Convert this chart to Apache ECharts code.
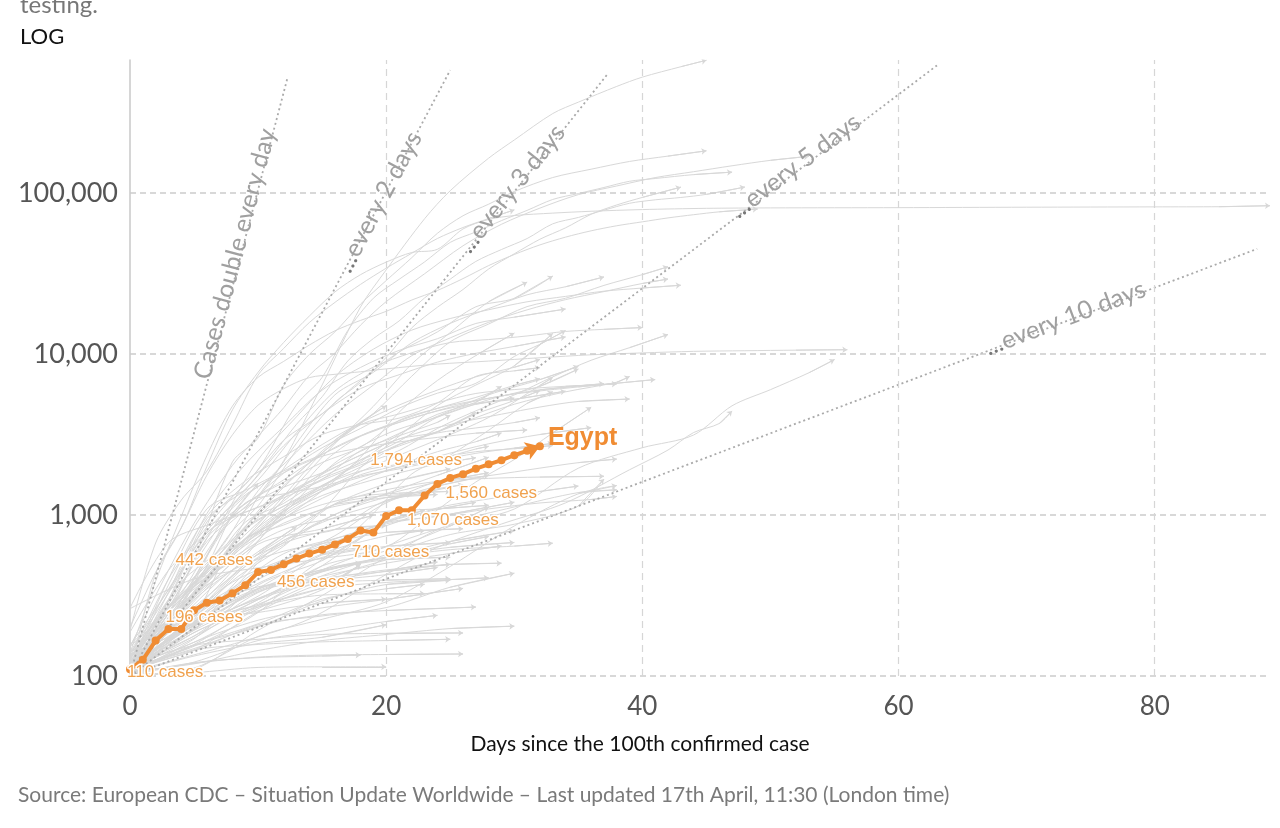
<!DOCTYPE html>
<html><head><meta charset="utf-8">
<script src="https://cdn.jsdelivr.net/npm/echarts/dist/echarts.min.js"></script>
<style>html,body{margin:0;padding:0;background:#fff}#c{width:1280px;height:828px}</style>
</head><body><div id="c"></div>
<script>
// ---------------- DATA ----------------
const xTicks = [0, 20, 40, 60, 80];
const yTicks = [100, 1000, 10000, 100000];

const egyptDays  = [0,1,2,3,4,5,6,7,8,9,10,11,12,13,14,15,16,17,18,19,20,21,22,23,24,25,26,27,28,29,30,31,32];
const egyptCases = [110,126,166,196,196,256,285,294,327,366,442,456,495,536,576,609,656,710,800,779,985,1070,1070,1322,1560,1699,1794,1939,2065,2190,2350,2505,2673];
const egyptLabelDays = [0,3,10,11,17,21,24,26];

const doublingNames = ['Cases double every day','every 2 days','every 3 days','every 5 days','every 10 days'];
const doublingEnds  = [[12.3,520000],[25,580000],[37.3,550000],[63,620000],[88,45000]];

// other countries: [day since 100th case, cumulative cases]
const china = [[0,200],[2,440],[4,830],[6,2000],[8,4500],[10,7700],[12,11800],[14,17200],[16,24300],[18,31100],[20,37200],[22,42700],[24,44700],[26,59800],[28,68500],[30,72400],[33,75000],[36,77000],[40,78900],[45,80300],[50,80800],[60,81100],[70,81600],[80,82000],[85,82200],[89,83400]];
const us = [[0,118],[3,217],[5,402],[8,696],[10,1301],[12,2174],[15,6421],[18,19624],[20,33276],[23,69194],[25,103321],[28,164620],[30,213372],[33,311357],[35,366614],[38,459165],[40,524514],[43,608377],[45,667572]];
const spain = [[0,114],[3,259],[5,525],[8,2140],[10,3004],[12,6391],[14,9942],[16,13716],[18,20410],[20,28572],[22,39673],[24,56188],[26,72248],[28,85195],[30,102136],[33,124736],[36,140510],[39,157022],[42,169496],[45,182816]];
const italy = [[0,152],[3,453],[5,888],[8,2036],[10,3089],[12,4636],[14,7375],[16,10149],[18,15113],[20,21157],[23,31506],[26,47021],[29,63927],[32,80539],[35,97689],[38,110574],[41,124632],[44,135586],[47,147577],[50,159516],[53,168941]];
const germany = [[0,130],[3,400],[5,670],[8,1296],[10,1908],[13,4838],[15,7156],[17,13979],[19,22213],[21,29056],[23,37323],[25,49344],[27,57298],[29,67366],[31,77981],[33,91159],[35,99225],[37,108202],[39,118235],[41,123016],[44,130072],[47,134753]];
const france = [[0,100],[3,191],[5,377],[8,1126],[10,1784],[13,3661],[15,5423],[17,9043],[19,12475],[21,16018],[23,22302],[25,29155],[27,37575],[29,44550],[31,52128],[33,64338],[35,70478],[37,78167],[39,86334],[41,90676],[43,93790],[45,98076],[48,108847]];
const uk = [[0,115],[3,273],[5,373],[8,798],[10,1140],[12,1950],[14,3269],[16,5018],[18,6650],[20,9529],[22,14543],[24,19522],[26,25150],[28,33718],[30,41903],[32,51608],[34,60733],[36,73758],[38,84279],[40,93873],[43,108692]];
const iran = [[0,139],[2,388],[4,978],[6,2336],[8,4747],[10,7161],[12,9000],[14,11364],[16,13938],[18,16169],[20,18407],[22,21638],[24,24811],[26,29406],[28,35408],[30,41495],[32,47593],[34,53183],[36,58226],[38,62589],[40,66220],[42,70029],[44,73303],[46,76389],[49,79494]];
const turkey = [[0,191],[2,670],[4,1236],[6,1872],[8,3629],[10,7402],[12,10827],[14,15679],[16,20921],[18,27069],[20,34109],[22,42282],[24,52167],[26,61049],[28,69392],[30,78546]];
const belgium = [[0,109],[5,314],[10,1058],[13,1795],[16,2815],[19,4269],[22,7284],[25,11899],[28,15348],[31,19691],[34,22194],[37,26667],[40,31119],[42,34809]];
const russia = [[0,114],[4,253],[7,495],[10,840],[13,1534],[16,2777],[19,4731],[22,8672],[25,13584],[28,21102],[31,27938]];
const brazil = [[0,121],[3,291],[6,904],[9,1546],[12,2915],[15,4256],[18,6836],[21,10278],[24,13717],[27,19638],[30,22169],[33,30425]];
const canada = [[0,108],[4,324],[7,769],[10,1278],[13,2792],[16,5576],[19,7695],[22,11747],[25,15496],[28,19141],[31,23318],[34,26163],[37,30106]];
const netherlands = [[0,128],[4,382],[7,614],[10,1413],[13,2460],[16,4204],[19,6412],[22,9762],[25,12595],[28,15723],[31,18803],[34,21762],[37,24413],[40,27419],[42,29214]];
const switzerland = [[0,114],[4,374],[7,868],[10,2200],[13,4075],[16,7245],[19,10714],[22,14076],[25,16605],[28,18827],[31,21100],[34,22789],[37,24551],[40,25688],[43,26732]];
const portugal = [[0,112],[3,331],[6,1020],[9,2060],[12,3544],[15,5962],[18,8251],[21,10524],[24,12442],[27,15472],[30,16934],[34,19022]];
const austria = [[0,104],[4,361],[7,959],[10,1646],[13,3244],[16,5888],[19,8291],[22,10180],[25,11781],[28,12297],[31,12942],[34,13806],[37,14226],[40,14595]];
const ireland = [[0,129],[3,292],[6,683],[9,1125],[12,1819],[15,2615],[18,3447],[21,4604],[24,5709],[27,6574],[30,9655],[32,11479],[34,13980]];
const israel = [[0,126],[3,298],[6,945],[9,1442],[12,2693],[15,4247],[18,6092],[21,7428],[24,8904],[27,10095],[30,11145],[34,12758]];
const india = [[0,107],[3,173],[6,283],[9,499],[12,724],[15,1071],[18,1965],[21,3082],[24,4778],[27,6412],[30,8446],[33,13387]];
const sweden = [[0,137],[3,326],[6,775],[9,1040],[12,1279],[15,1639],[18,2046],[21,2510],[24,3447],[27,4435],[30,5568],[33,7206],[36,9141],[39,10948],[42,13216]];
const peru = [[0,117],[3,263],[6,416],[9,671],[12,950],[15,1414],[18,2281],[21,4342],[24,6848],[27,9784],[30,13489]];
const korea = [[0,104],[2,433],[4,833],[6,1766],[8,3150],[10,4812],[12,6088],[14,7134],[16,7478],[18,7755],[20,8086],[24,8652],[28,9037],[32,9478],[36,9887],[40,10156],[44,10384],[48,10480],[52,10564],[56,10635]];
const japan = [[0,105],[5,186],[10,274],[15,455],[20,639],[25,864],[30,1089],[35,1953],[40,2617],[44,3139],[47,4767],[50,6005],[53,7645],[55,9231]];
const singapore = [[0,106],[9,166],[14,226],[19,385],[24,631],[29,879],[34,1189],[39,1910],[42,2532],[44,3252],[46,3699],[47,4427]];
const australia = [[0,107],[3,200],[6,375],[9,709],[12,1314],[15,2423],[18,3635],[21,4245],[24,4976],[27,5687],[30,6013],[34,6303],[38,6522]];
const malaysia = [[0,117],[5,238],[8,673],[11,1183],[14,1624],[17,2161],[20,2766],[23,3333],[26,3793],[29,4228],[32,4683],[35,5072],[39,5251]];
const chile = [[0,155],[3,342],[6,746],[9,1306],[12,1909],[15,2738],[18,3737],[21,4815],[24,5972],[27,7213],[30,8273],[32,9252]];
const ecuador = [[0,111],[3,367],[6,981],[9,1627],[12,2302],[15,3163],[18,3646],[21,3995],[24,4965],[27,7257],[30,7858],[32,8225]];
const poland = [[0,104],[4,287],[8,634],[12,1221],[16,2055],[20,2946],[24,4102],[28,5575],[32,6934],[35,8379]];
const romania = [[0,123],[4,260],[8,576],[12,1029],[16,2109],[20,3183],[24,4057],[28,5202],[32,6300],[35,8067]];
const saudi = [[0,103],[4,238],[8,511],[12,1012],[16,1563],[20,2179],[24,2932],[28,4033],[32,6380],[33,7142]];
const pakistan = [[0,187],[3,453],[6,776],[9,1179],[12,1597],[15,2118],[18,2637],[21,3864],[24,4601],[27,5374],[30,6383],[32,7025]];
const mexico = [[0,118],[3,251],[6,405],[9,717],[12,1094],[15,1510],[18,2143],[21,3181],[24,4219],[27,5014],[29,6297]];
const denmark = [[0,264],[3,674],[6,864],[10,1115],[14,1591],[18,2201],[22,2860],[26,3757],[30,4875],[34,5819],[38,6681],[39,7242]];
const norway = [[0,113],[3,400],[6,1090],[9,1423],[12,1877],[15,2383],[18,3084],[21,3755],[24,4445],[27,5113],[30,5640],[35,6244],[41,6937]];
const czechia = [[0,116],[4,298],[8,995],[12,1654],[16,2631],[20,3589],[24,4587],[28,5312],[32,5991],[37,6549]];
const qatar = [[0,262],[5,401],[10,470],[15,537],[20,634],[24,1075],[27,1604],[30,2210],[33,3231],[36,4663]];
const uae = [[0,113],[5,153],[10,248],[13,405],[16,611],[19,1024],[22,1799],[25,2359],[28,3360],[31,4933],[33,5825]];
const philippines = [[0,111],[3,187],[6,307],[9,552],[12,1075],[15,2084],[18,3094],[21,3764],[24,4428],[27,4932],[30,5223],[34,5878]];
const indonesia = [[0,134],[3,227],[6,450],[9,686],[12,1046],[15,1528],[18,1986],[21,2738],[24,3293],[27,4241],[30,5136],[32,5923]];
const serbia = [[0,103],[3,222],[6,384],[9,659],[12,1060],[15,1476],[18,2200],[21,2867],[24,4054],[27,4873],[30,5318]];
const ukraine = [[0,113],[3,218],[6,418],[9,804],[12,1319],[15,1668],[18,2511],[21,3102],[24,3764],[25,4161]];
const dominican = [[0,112],[3,245],[6,719],[9,1109],[12,1488],[15,1828],[18,2349],[21,2967],[24,3286],[27,4335]];
const panama = [[0,109],[3,245],[6,443],[9,901],[12,1181],[15,1673],[18,2100],[21,2752],[24,3234],[27,3472],[30,3751],[32,4016]];
const luxembourg = [[0,140],[3,345],[6,798],[9,1333],[12,1831],[15,2319],[18,2612],[21,2843],[24,3034],[27,3223],[31,3373]];
const finland = [[0,155],[4,319],[8,626],[12,958],[16,1384],[20,1882],[24,2308],[28,2769],[32,3161],[36,3489]];
const colombia = [[0,102],[3,231],[6,470],[9,702],[12,1065],[15,1406],[18,1780],[21,2054],[24,2473],[27,2852],[29,3233]];
const argentina = [[0,128],[3,266],[6,502],[9,820],[12,1133],[15,1451],[18,1715],[21,1975],[24,2208],[27,2571],[28,2669]];
const southAfrica = [[0,114],[3,202],[6,554],[9,1187],[12,1353],[15,1505],[18,1749],[21,1934],[24,2173],[27,2415],[30,2605],[33,2783]];
const greece = [[0,117],[4,228],[8,418],[12,695],[16,966],[20,1212],[24,1613],[28,1755],[32,1955],[35,2114],[38,2224]];
const algeria = [[0,139],[3,264],[6,409],[9,584],[12,986],[15,1320],[18,1572],[21,1825],[24,2070],[27,2268]];
const morocco = [[0,115],[3,170],[6,275],[9,479],[12,654],[15,919],[18,1184],[21,1448],[24,1763],[28,2283]];
const iceland = [[0,117],[3,199],[6,409],[9,648],[12,890],[15,1086],[18,1319],[21,1486],[24,1616],[28,1689],[32,1720],[37,1739]];
const thailand = [[0,114],[3,212],[6,411],[9,827],[12,1136],[15,1524],[18,1875],[21,2067],[24,2258],[27,2473],[30,2579],[33,2700]];
const slovenia = [[0,141],[4,219],[8,383],[12,528],[16,684],[20,897],[24,977],[28,1091],[32,1188],[36,1248],[38,1304]];
const croatia = [[0,110],[3,206],[6,382],[9,713],[12,867],[15,1079],[18,1222],[21,1407],[24,1600],[28,1832]];
const estonia = [[0,115],[4,225],[8,352],[12,575],[16,715],[20,858],[24,1108],[28,1258],[32,1400],[35,1512]];
const iraq = [[0,101],[5,110],[10,192],[15,316],[20,547],[25,878],[30,1122],[35,1378],[38,1434]];
const kuwait = [[0,100],[5,112],[10,176],[15,225],[20,289],[25,479],[30,855],[35,1355],[38,1524]];
const bahrain = [[0,110],[5,214],[10,279],[15,419],[20,567],[25,756],[30,876],[35,1136],[37,1671]];
const lebanon = [[0,110],[5,206],[10,333],[15,446],[20,541],[25,609],[30,641],[33,668]];
const newZealand = [[0,102],[3,262],[6,451],[9,708],[12,950],[15,1160],[18,1312],[21,1366],[25,1401]];
const hungary = [[0,103],[4,187],[8,343],[12,525],[16,744],[20,1190],[24,1512],[28,1763]];
const bosnia = [[0,126],[4,176],[8,323],[12,477],[16,674],[20,901],[24,1083],[27,1200]];
const lithuania = [[0,105],[4,274],[8,537],[12,811],[16,955],[20,1053],[24,1091],[28,1149]];
const armenia = [[0,115],[5,194],[10,424],[15,663],[20,881],[25,1013],[30,1201]];
const moldova = [[0,109],[4,199],[8,423],[12,752],[16,1174],[20,1560],[25,1934]];
const kazakhstan = [[0,105],[4,204],[8,348],[12,697],[16,812],[20,1232],[26,1546]];
const uzbekistan = [[0,104],[4,190],[8,390],[12,640],[16,1165],[22,1349]];
const tunisia = [[0,114],[4,278],[8,455],[12,596],[16,685],[20,780],[26,822]];
const cuba = [[0,119],[4,233],[8,457],[12,669],[16,814],[20,862]];
const bulgaria = [[0,127],[5,218],[10,346],[15,457],[20,549],[25,685],[30,800]];
const latvia = [[0,111],[5,197],[10,347],[15,458],[20,548],[25,630],[30,675]];
const costaRica = [[0,113],[5,177],[10,330],[15,416],[20,502],[25,577],[29,642]];
const uruguay = [[0,110],[5,217],[10,350],[15,400],[20,456],[25,493],[29,502]];
const jordan = [[0,112],[5,212],[10,274],[15,349],[20,381],[25,397],[28,407]];
const cyprus = [[0,116],[5,162],[10,262],[15,396],[20,526],[25,662],[28,735]];
const andorra = [[0,113],[5,224],[10,376],[15,545],[20,638],[25,673]];
const sanMarino = [[0,109],[5,144],[10,208],[15,236],[20,266],[25,356],[30,435]];
const albania = [[0,104],[5,197],[10,304],[15,400],[20,446],[25,494]];
const macedonia = [[0,114],[5,177],[10,285],[15,483],[20,599],[25,854],[28,1117]];
const malta = [[0,107],[5,156],[10,202],[15,293],[20,370],[25,393]];
const vietnam = [[0,113],[5,148],[10,204],[15,240],[20,255],[27,268]];
const sriLanka = [[0,102],[5,122],[10,166],[15,190],[20,218],[24,238]];
const faroe = [[0,118],[5,155],[10,169],[15,181],[20,184],[26,185]];
const brunei = [[0,104],[5,120],[10,131],[15,135],[20,136],[26,137]];
const belarus = [[0,152],[4,304],[8,700],[12,1486],[16,2919],[20,4779]];
const bangladesh = [[0,123],[3,218],[6,482],[8,1012],[10,1572]];
const afghanistan = [[0,106],[5,170],[10,367],[15,521],[20,906]];
const oman = [[0,109],[5,192],[10,298],[15,484],[20,910],[23,1069]];
const ghana = [[0,137],[5,204],[10,313],[15,566],[19,636]];
const cameroon = [[0,139],[5,306],[10,658],[15,820],[19,996]];
const ivoryCoast = [[0,101],[5,194],[10,349],[15,574],[20,742],[23,801]];
const burkina = [[0,114],[5,207],[10,302],[15,443],[20,528],[25,546]];
const senegal = [[0,105],[5,162],[10,222],[15,265],[20,299],[26,350]];
const nigeria = [[0,111],[5,210],[10,254],[15,343],[18,493]];
const georgia = [[0,103],[5,155],[10,211],[15,300],[20,348],[23,371]];
const azerbaijan = [[0,122],[5,209],[10,521],[15,926],[20,1283],[24,1340]];
const kyrgyzstan = [[0,107],[5,216],[10,339],[15,449],[18,506]];
const kosovo = [[0,112],[5,145],[10,251],[15,377],[20,449],[24,510]];
const montenegro = [[0,105],[5,214],[10,248],[15,283],[20,300]];
const venezuela = [[0,106],[5,119],[10,144],[15,166],[20,181],[25,197],[30,204]];
const bolivia = [[0,107],[5,157],[10,268],[15,354],[18,493]];
const honduras = [[0,110],[5,172],[10,298],[15,382],[20,426],[24,472]];
const paraguay = [[0,104],[5,133],[10,159],[15,174],[20,208]];
const trinidad = [[0,103],[5,105],[10,113],[15,114],[20,114]];
const mauritius = [[0,102],[5,186],[10,268],[15,318],[20,324],[23,325]];
const martinique = [[0,108],[5,145],[10,157],[15,163],[20,166],[25,169]];
const reunion = [[0,111],[5,247],[10,358],[15,382],[20,394],[25,402]];
const guam = [[0,103],[5,121],[10,130],[15,133],[18,135]];
const djibouti = [[0,135],[3,187],[5,298],[10,591],[13,846]];

const otherCountries = [china, us, spain, italy, germany, france, uk, iran, turkey, belgium, russia, brazil, canada,
  netherlands, switzerland, portugal, austria, ireland, israel, india, sweden, peru, korea, japan, singapore,
  australia, malaysia, chile, ecuador, poland, romania, saudi, pakistan, mexico, denmark, norway, czechia, qatar,
  uae, philippines, indonesia, serbia, ukraine, dominican, panama, luxembourg, finland, colombia, argentina,
  southAfrica, greece, algeria, morocco, iceland, thailand, slovenia, croatia, estonia, iraq, kuwait, bahrain,
  lebanon, newZealand, hungary, bosnia, lithuania, armenia, moldova, kazakhstan, uzbekistan, tunisia, cuba,
  bulgaria, latvia, costaRica, uruguay, jordan, cyprus, andorra, sanMarino, albania, macedonia, malta, vietnam,
  sriLanka, faroe, brunei, belarus, bangladesh, afghanistan, oman, ghana, cameroon, ivoryCoast, burkina, senegal,
  nigeria, georgia, azerbaijan, kyrgyzstan, kosovo, montenegro, venezuela, bolivia, honduras, paraguay, trinidad,
  mauritius, martinique, reunion, guam, djibouti];

// ---------------- STYLE / LAYOUT CONFIG ----------------
const GREY = '#d8d8d8';
const ORANGE = '#f08c33';
const LABEL_ORANGE = '#f0a24f';
const FONT = 'Lato, "Open Sans", sans-serif';
const EG_SYMBOL = 8;
// label anchor for each doubling line (data coords of text centre) and its angle
const doublingLabelAnchor = [[8.2,41800],[19.45,87900],[29.8,106000],[51.95,147000],[73.0,16700]];
const doublingLabelAngle = [75.2, 62.2, 51.6, 37.1, 20.7];
// pixel offsets of Egypt labels from their point
const egyptLabelStyle = {
  0:  {align:'left',  offset:[-3, 3]},
  3:  {align:'left',  offset:[-3,-12]},
  10: {align:'right', offset:[-5,-12]},
  11: {align:'left',  offset:[6, 12]},
  17: {align:'left',  offset:[4, 13]},
  21: {align:'left',  offset:[8, 10]},
  24: {align:'left',  offset:[8, 9]},
  26: {align:'right', offset:[-1,-14]}
};

// ---------------- CHART ----------------
const chart = echarts.init(document.getElementById('c'), null, {renderer:'canvas'});
const fmt = v => Number(v).toLocaleString('en-US');

const series = [];

// grid lines (dashed) drawn as markLines
series.push({
  type:'line', data:[[0,100]], symbol:'none', lineStyle:{opacity:0}, silent:true, z:1,
  markLine:{
    silent:true, symbol:['none','none'], label:{show:false}, animation:false,
    data: [
      ...yTicks.map(v => ({yAxis:v, lineStyle:{type:[6,4], color:'#cccccc', width:1.5}})),
      ...xTicks.filter(v => v>0).map(v => ({xAxis:v, lineStyle:{type:[7,5], color:'#d6d6d6', width:1.2}}))
    ]
  }
});

// grey country lines
otherCountries.forEach(c => {
  series.push({
    type:'line', data:c, smooth:0.3, symbol:'none', silent:true, z:2,
    lineStyle:{color:GREY, width:1}
  });
});
// arrows at ends of grey lines
series.push({
  type:'lines', coordinateSystem:'cartesian2d', silent:true, z:2,
  symbol:['none','arrow'], symbolSize:[0,5],
  lineStyle:{color:GREY, width:1, opacity:1},
  data: otherCountries.map(c => ({coords:[c[c.length-2], c[c.length-1]]}))
});

// doubling reference lines
doublingNames.forEach((name, i) => {
  const txt = i === 0 ? '{t|' + name + '}' : '{d|...}{t|' + name + '}';
  series.push({
    type:'line', data:[[0,100], doublingEnds[i]], symbol:'none', silent:true, z:3,
    lineStyle:{color:'#aaaaaa', width:1.8, type:[2,3]},
    markPoint:{
      silent:true, symbol:'circle', symbolSize:1, itemStyle:{color:'rgba(0,0,0,0)'},
      data:[{coord:doublingLabelAnchor[i]}],
      label:{
        show:true, position:'inside', rotate:doublingLabelAngle[i], formatter:txt,
        align:'center', verticalAlign:'middle',
        rich:{
          d:{color:'#777777', fontSize:25, fontFamily:FONT},
          t:{color:'#a0a0a0', fontSize:25, fontFamily:FONT}
        }
      }
    }
  });
});

// Egypt
const egyptData = egyptDays.map((d, i) => {
  const item = {value:[d, egyptCases[i]]};
  if (egyptLabelDays.includes(d)) {
    const st = egyptLabelStyle[d];
    item.label = {
      show:true,
      position:[st.offset[0] + EG_SYMBOL/2, st.offset[1] + EG_SYMBOL/2],
      formatter: fmt(egyptCases[i]) + ' cases',
      align: st.align, verticalAlign:'middle',
      color: LABEL_ORANGE, fontSize:17, fontFamily:'Arial, "Liberation Sans", sans-serif',
      textBorderColor:'#fff', textBorderWidth:3
    };
  }
  return item;
});
series.push({
  type:'line', data:egyptData, z:10, symbol:'circle', symbolSize:EG_SYMBOL,
  itemStyle:{color:ORANGE}, lineStyle:{color:ORANGE, width:4},
  label:{show:false},
  endLabel:{show:true, formatter:'Egypt', color:ORANGE, fontSize:25, fontWeight:'bold',
    fontFamily:'Arial, "Liberation Sans", sans-serif', distance:8, offset:[0,-8]}
});
series.push({
  type:'lines', coordinateSystem:'cartesian2d', silent:true, z:10,
  symbol:['none','arrow'], symbolSize:[0,14],
  lineStyle:{color:ORANGE, width:4, opacity:1},
  data:[{coords:[[egyptDays[egyptDays.length-2], egyptCases[egyptCases.length-2]],
                 [egyptDays[egyptDays.length-1], egyptCases[egyptCases.length-1]]]}]
});

const option = {
  animation:false,
  backgroundColor:'#fff',
  grid:{left:130, right:10, top:60, bottom:152, containLabel:false},
  xAxis:{
    type:'value', min:0, max:89, interval:20,
    axisLine:{show:false}, axisTick:{show:false}, splitLine:{show:false},
    axisLabel:{fontSize:26, color:'#555', fontFamily:FONT, margin:18, showMaxLabel:false}
  },
  yAxis:{
    type:'log', logBase:10, min:100, max:670000,
    axisLine:{show:true, lineStyle:{color:'#c8c8c8', width:1.5}},
    axisTick:{show:false}, splitLine:{show:false},
    axisLabel:{fontSize:27, color:'#555', fontFamily:FONT, margin:12, showMaxLabel:false,
      formatter: v => yTicks.includes(Math.round(v)) ? fmt(Math.round(v)) : ''}
  },
  graphic:[
    {type:'text', left:20, top:-7, style:{text:'testing.', fontSize:24, fill:'#777', fontFamily:FONT}},
    {type:'text', left:20, top:26, style:{text:'LOG', fontSize:22, fill:'#111', fontFamily:FONT}},
    {type:'text', left:'center', top:734, style:{text:'Days since the 100th confirmed case', fontSize:21, fill:'#111', fontFamily:FONT}},
    {type:'text', left:18, top:785, style:{text:'Source: European CDC \u2013 Situation Update Worldwide \u2013 Last updated 17th April, 11:30 (London time)', fontSize:21, fill:'#7a7a7a', fontFamily:FONT}}
  ],
  series: series
};
chart.setOption(option);
</script>
</body></html>
